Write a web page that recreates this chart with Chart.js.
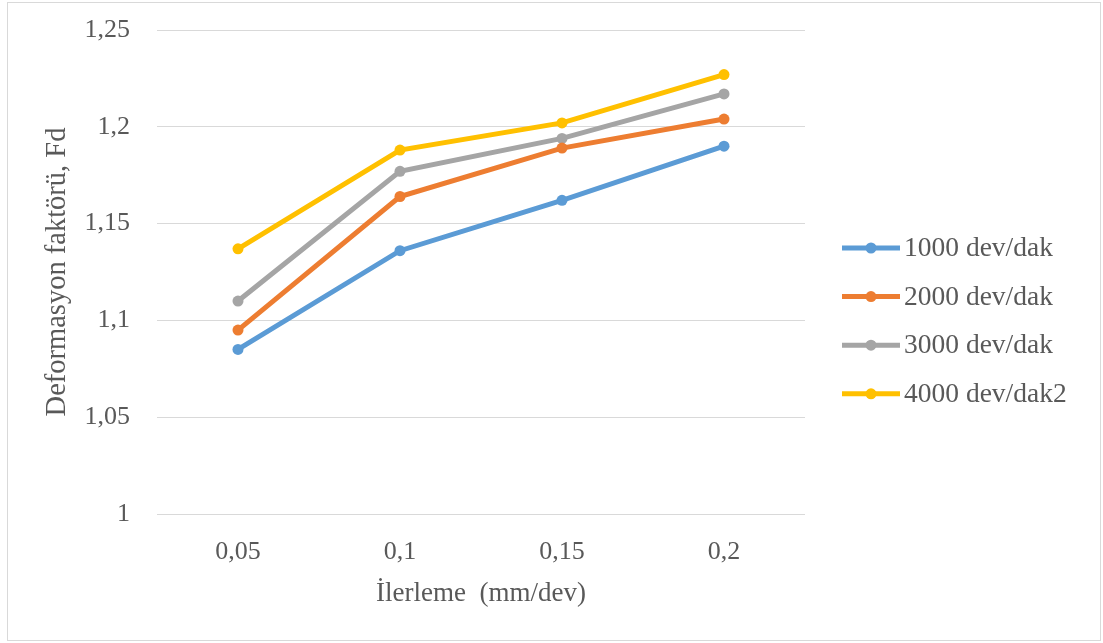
<!DOCTYPE html>
<html>
<head>
<meta charset="utf-8">
<script src="https://cdn.jsdelivr.net/npm/chart.js@4.4.1/dist/chart.umd.min.js"></script>
<style>
    html, body { margin: 0; padding: 0; background: #fff; }
    #wrap { position: relative; width: 1103px; height: 643px; }
    #frame { position: absolute; left: 7px; top: 2px; width: 1092px; height: 637px; border: 1px solid #d9d9d9; pointer-events: none; }
</style>
</head>
<body>
<div id="wrap">
    <canvas id="chart" width="1103" height="643"></canvas>
    <div id="frame"></div>
</div>
<script>
    // data
    const feedLabels = ['0,05', '0,1', '0,15', '0,2'];
    const seriesNames = ['1000 dev/dak', '2000 dev/dak', '3000 dev/dak', '4000 dev/dak2'];
    const rpm1000 = [1.085, 1.136, 1.162, 1.190];
    const rpm2000 = [1.095, 1.164, 1.189, 1.204];
    const rpm3000 = [1.110, 1.177, 1.194, 1.217];
    const rpm4000 = [1.137, 1.188, 1.202, 1.227];
    const yTicks = [1, 1.05, 1.1, 1.15, 1.2, 1.25];

    const colors = ['#5B9BD5', '#ED7D31', '#A5A5A5', '#FFC000'];
    const textColor = '#595959';
    const serif = 'Liberation Serif';

    function makeSet(i, values) {
        return {
            label: seriesNames[i],
            data: values,
            borderColor: colors[i],
            backgroundColor: colors[i],
            borderWidth: 5,
            pointRadius: 5.5,
            pointBorderWidth: 0,
            tension: 0
        };
    }

    // legend drawn on the right, one row per dataset
    const sideLegend = {
        id: 'sideLegend',
        afterDraw(chart) {
            const ctx = chart.ctx;
            ctx.save();
            ctx.font = '27.5px "' + serif + '"';
            ctx.textBaseline = 'middle';
            ctx.textAlign = 'left';
            chart.data.datasets.forEach((ds, i) => {
                let y = 248 + i * 48.6;
                ctx.strokeStyle = ds.borderColor;
                ctx.lineWidth = 5;
                ctx.beginPath();
                ctx.moveTo(842, y);
                ctx.lineTo(900, y);
                ctx.stroke();
                ctx.fillStyle = ds.borderColor;
                ctx.beginPath();
                ctx.arc(871, y, 5.5, 0, Math.PI * 2);
                ctx.fill();
                ctx.fillStyle = textColor;
                ctx.fillText(ds.label, 904, y + 1);
            });
            ctx.restore();
        }
    };

    new Chart(document.getElementById('chart'), {
        type: 'line',
        data: {
            labels: feedLabels,
            datasets: [makeSet(0, rpm1000), makeSet(1, rpm2000), makeSet(2, rpm3000), makeSet(3, rpm4000)]
        },
        options: {
            responsive: false,
            animation: false,
            layout: { padding: { top: 30, right: 298, bottom: 0, left: 0 } },
            plugins: {
                legend: { display: false },
                tooltip: { enabled: false }
            },
            scales: {
                x: {
                    offset: true,
                    grid: { display: false, drawTicks: false },
                    border: { display: false },
                    ticks: { color: textColor, padding: 23, font: { family: serif, size: 26 } },
                    title: {
                        display: true,
                        text: 'İlerleme  (mm/dev)',
                        color: textColor,
                        font: { family: serif, size: 27 },
                        padding: { top: 0, bottom: 33 }
                    },
                    afterFit: scale => {
                        scale.height = 129;
                        scale.paddingLeft = 0;
                        scale.paddingRight = 0;
                    }
                },
                y: {
                    min: 1,
                    max: 1.25,
                    afterBuildTicks: scale => { scale.ticks = yTicks.map(v => ({ value: v })); },
                    grid: { color: '#d9d9d9', lineWidth: 1, drawTicks: false },
                    border: { display: false },
                    ticks: {
                        color: textColor,
                        padding: 27,
                        font: { family: serif, size: 26 },
                        callback: v => String(v).replace('.', ',')
                    },
                    title: {
                        display: true,
                        text: 'Deformasyon faktörü, Fd',
                        color: textColor,
                        font: { family: serif, size: 28.5 },
                        padding: { top: 40, bottom: 0 }
                    },
                    afterFit: scale => {
                        scale.width = 157;
                        scale.paddingTop = 0;
                        scale.paddingBottom = 0;
                    }
                }
            }
        },
        plugins: [sideLegend]
    });
</script>
</body>
</html>
